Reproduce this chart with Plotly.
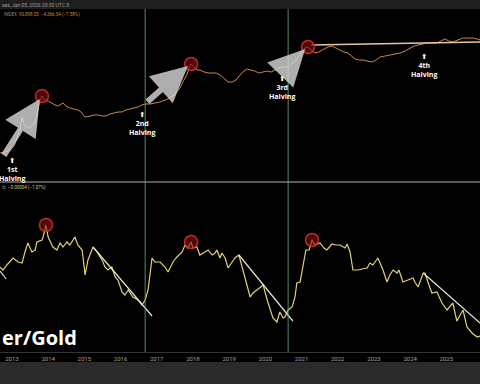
import numpy as np
import plotly.graph_objects as go

# ---------------- data ----------------
# Upper panel: BTC price (USD, log scale)
btc_dates = [2012.67, 2012.81, 2012.95, 2013.06, 2013.14, 2013.22, 2013.28, 2013.33, 2013.42, 2013.53,
             2013.64, 2013.72, 2013.77, 2013.83, 2013.91, 2014.00, 2014.08, 2014.19, 2014.27, 2014.36,
             2014.41, 2014.49, 2014.60, 2014.71, 2014.82, 2014.91, 2014.99, 2015.05, 2015.16, 2015.27,
             2015.38, 2015.49, 2015.60, 2015.71, 2015.82, 2015.93, 2016.04, 2016.15, 2016.26, 2016.37,
             2016.48, 2016.59, 2016.68, 2016.81, 2016.95, 2017.09, 2017.23, 2017.37, 2017.50, 2017.64,
             2017.75, 2017.84, 2017.89, 2017.95, 2018.03, 2018.11, 2018.19, 2018.31, 2018.42, 2018.53,
             2018.64, 2018.75, 2018.86, 2018.97, 2019.08, 2019.19, 2019.30, 2019.38, 2019.49, 2019.60,
             2019.71, 2019.82, 2019.94, 2020.05, 2020.16, 2020.27, 2020.38, 2020.49, 2020.60, 2020.68,
             2020.79, 2020.90, 2021.01, 2021.10, 2021.18, 2021.26, 2021.37, 2021.48, 2021.62, 2021.73,
             2021.84, 2021.95, 2022.06, 2022.17, 2022.28, 2022.39, 2022.48, 2022.59, 2022.70, 2022.81,
             2022.95, 2023.06, 2023.17, 2023.31, 2023.44, 2023.58, 2023.72, 2023.86, 2024.00, 2024.11,
             2024.22, 2024.36, 2024.47, 2024.60, 2024.74, 2024.85, 2024.96, 2025.07, 2025.18, 2025.32,
             2025.46, 2025.60, 2025.74, 2025.85, 2025.93]
btc_price = [10.1, 11.0, 12.9, 17.9, 34.7, 67, 195, 110, 79, 86,
             129, 347, 727, 1096, 789, 727, 617, 524, 482, 568,
             617, 482, 408, 377, 347, 294, 212, 195, 212, 230,
             230, 212, 212, 249, 271, 294, 294, 347, 377, 408,
             444, 524, 568, 568, 617, 670, 789, 931, 1291, 2118,
             4083, 6699, 10965, 15240, 11910, 9311, 9311, 7889, 7261, 7261,
             7261, 6166, 4436, 3467, 3467, 4083, 6166, 7889, 10093, 9311,
             8570, 7261, 7889, 8570, 7889, 9311, 10965, 11910, 11910, 12912,
             17950, 24950, 40830, 56750, 61660, 48190, 37670, 40830, 52360, 61660,
             66990, 56750, 48190, 40830, 37670, 29440, 22960, 21180, 21180, 19500,
             17950, 21180, 27100, 29440, 31920, 34670, 37670, 44360, 56750, 66990,
             72610, 78890, 85700, 85700, 85700, 100900, 119100, 100900, 93110, 109600,
             129100, 129100, 129100, 119100, 109600]

# Lower panel: ratio series
ratio_dates = [2012.67, 2012.75, 2012.86, 2013.03, 2013.17, 2013.28, 2013.36, 2013.44, 2013.55, 2013.64,
               2013.69, 2013.83, 2013.86, 2013.94, 2014.00, 2014.13, 2014.24, 2014.33, 2014.41, 2014.52,
               2014.60, 2014.74, 2014.82, 2014.94, 2015.02, 2015.10, 2015.24, 2015.35, 2015.49, 2015.57,
               2015.65, 2015.76, 2015.85, 2015.93, 2016.04, 2016.12, 2016.21, 2016.34, 2016.48, 2016.59,
               2016.68, 2016.76, 2016.87, 2016.95, 2017.09, 2017.23, 2017.31, 2017.45, 2017.56, 2017.70,
               2017.78, 2017.86, 2017.95, 2018.00, 2018.11, 2018.19, 2018.33, 2018.42, 2018.53, 2018.61,
               2018.66, 2018.75, 2018.80, 2018.89, 2018.97, 2019.08, 2019.16, 2019.27, 2019.38, 2019.49,
               2019.58, 2019.66, 2019.77, 2019.85, 2019.94, 2020.05, 2020.13, 2020.21, 2020.32, 2020.40,
               2020.49, 2020.54, 2020.63, 2020.74, 2020.82, 2020.87, 2020.96, 2021.04, 2021.12, 2021.21,
               2021.29, 2021.37, 2021.51, 2021.62, 2021.70, 2021.84, 2021.95, 2022.06, 2022.20, 2022.26,
               2022.34, 2022.42, 2022.56, 2022.67, 2022.81, 2022.89, 2022.97, 2023.11, 2023.25, 2023.36,
               2023.44, 2023.53, 2023.64, 2023.69, 2023.80, 2023.94, 2024.08, 2024.13, 2024.22, 2024.36,
               2024.41, 2024.49, 2024.60, 2024.74, 2024.88, 2025.02, 2025.18, 2025.29, 2025.46, 2025.57,
               2025.71, 2025.85, 2025.93]
ratio_vals = [0.85, 0.82, 0.87, 0.94, 0.90, 0.89, 1.00, 1.09, 1.00, 1.02,
              1.10, 1.12, 1.15, 1.27, 1.15, 1.05, 1.02, 1.09, 1.05, 1.10,
              1.07, 1.15, 1.07, 1.02, 0.77, 0.92, 1.05, 1.00, 0.92, 0.85,
              0.82, 0.85, 0.75, 0.72, 0.60, 0.57, 0.62, 0.55, 0.52, 0.47,
              0.52, 0.62, 0.94, 0.90, 0.90, 0.85, 0.80, 0.90, 0.95, 1.00,
              1.07, 1.04, 1.10, 1.04, 1.05, 0.97, 1.00, 1.02, 0.97, 0.99,
              1.02, 0.94, 0.99, 0.94, 0.84, 0.90, 0.94, 0.97, 0.82, 0.69,
              0.55, 0.59, 0.62, 0.64, 0.67, 0.52, 0.44, 0.34, 0.30, 0.40,
              0.34, 0.35, 0.42, 0.45, 0.55, 0.69, 0.70, 0.85, 1.02, 1.02,
              1.12, 1.07, 1.09, 1.04, 1.02, 1.08, 1.07, 1.07, 1.04, 1.08,
              1.00, 0.82, 0.82, 0.83, 0.84, 0.89, 0.87, 0.94, 0.82, 0.70,
              0.77, 0.82, 0.79, 0.82, 0.70, 0.72, 0.74, 0.70, 0.65, 0.79,
              0.79, 0.70, 0.59, 0.60, 0.49, 0.42, 0.49, 0.31, 0.42, 0.25,
              0.19, 0.15, 0.16]

year_ticks = list(range(2013, 2027))
halving_lines = [2016.68, 2020.63]
halving_names = ["1st", "2nd", "3rd", "4th"]
halving_label_dates = [2013.00, 2016.59, 2020.46, 2024.38]
halving_label_price = [6.17, 271, 5236, 31920]

# cycle peaks (circled)
btc_peak_dates = [2013.83, 2017.95, 2021.18]
ratio_peak_dates = [2013.94, 2017.95, 2021.29]

# grey arrows: halving -> peak (date, price)
arrow_tail_dates = [2012.75, 2016.70, 2020.65]
arrow_tail_price = [7.3, 617, 12912]
arrow_tip_dates = [2013.77, 2017.86, 2021.10]
arrow_tip_price = [857, 12912, 52360]

# upper resistance line
btc_trend_dates = [2021.27, 2025.93]
btc_trend_price = [72610, 93110]

# lower down-trend lines (start date, end date, start value, end value)
ratio_trend_x0 = [2012.67, 2015.24, 2019.27, 2024.36]
ratio_trend_x1 = [2012.84, 2016.87, 2020.76, 2025.93]
ratio_trend_y0 = [0.81, 1.05, 0.97, 0.79]
ratio_trend_y1 = [0.73, 0.36, 0.31, 0.29]

# ---------------- figure ----------------
W, H = 480, 384
UP_DOM = [202 / H, 375 / H]
LO_DOM = [32 / H, 201 / H]
ORANGE = "#cf8744"
YELLOW = "#e2d46c"

fig = go.Figure()

fig.add_trace(go.Scatter(x=btc_dates, y=btc_price, mode="lines",
                         line=dict(color=ORANGE, width=1), xaxis="x", yaxis="y",
                         hoverinfo="skip", showlegend=False))
fig.add_trace(go.Scatter(x=btc_trend_dates, y=btc_trend_price, mode="lines",
                         line=dict(color="#e3c99e", width=1.5), xaxis="x", yaxis="y",
                         hoverinfo="skip", showlegend=False))
fig.add_trace(go.Scatter(x=ratio_dates, y=ratio_vals, mode="lines",
                         line=dict(color=YELLOW, width=1.2), xaxis="x", yaxis="y2",
                         hoverinfo="skip", showlegend=False))
for a, b, c, d in zip(ratio_trend_x0, ratio_trend_x1, ratio_trend_y0, ratio_trend_y1):
    fig.add_trace(go.Scatter(x=[a, b], y=[c, d], mode="lines",
                             line=dict(color="#e6e6dc", width=1.2), xaxis="x", yaxis="y2",
                             hoverinfo="skip", showlegend=False))

# peak circles
btc_lookup = dict(zip(btc_dates, btc_price))
ratio_lookup = dict(zip(ratio_dates, ratio_vals))
circ = dict(size=13, color="rgba(130,10,15,0.6)", line=dict(color="rgba(210,45,45,0.9)", width=1.5))
fig.add_trace(go.Scatter(x=btc_peak_dates, y=[btc_lookup[d] for d in btc_peak_dates], mode="markers",
                         marker=circ, xaxis="x", yaxis="y", hoverinfo="skip", showlegend=False))
fig.add_trace(go.Scatter(x=ratio_peak_dates, y=[ratio_lookup[d] for d in ratio_peak_dates], mode="markers",
                         marker=circ, xaxis="x", yaxis="y2", hoverinfo="skip", showlegend=False))

shapes = []
# top and bottom bars
shapes.append(dict(type="rect", xref="paper", yref="paper", x0=0, x1=1, y0=375 / H, y1=1,
                   fillcolor="#1e1e1e", line=dict(width=0)))
shapes.append(dict(type="rect", xref="paper", yref="paper", x0=0, x1=1, y0=0, y1=22 / H,
                   fillcolor="#2a2a2a", line=dict(width=0)))
# pane separator
shapes.append(dict(type="line", xref="paper", yref="paper", x0=0, x1=1, y0=202 / H, y1=202 / H,
                   line=dict(color="#777777", width=1.5)))
# halving vertical lines
for d in halving_lines:
    shapes.append(dict(type="line", xref="x", yref="paper", x0=d, x1=d, y0=LO_DOM[0], y1=UP_DOM[1],
                       line=dict(color="rgba(105,160,120,0.85)", width=1)))

annotations = []
# grey arrows
for tx, tp, hx, hp in zip(arrow_tail_dates, arrow_tail_price, arrow_tip_dates, arrow_tip_price):
    annotations.append(dict(x=hx, y=np.log10(hp), ax=tx, ay=np.log10(tp), xref="x", yref="y",
                            axref="x", ayref="y", text="", showarrow=True, arrowhead=2,
                            arrowsize=1.2, arrowwidth=6, arrowcolor="rgba(218,218,218,0.8)",
                            standoff=0, startstandoff=0))
# halving labels (icon + ordinal + "Halving" in one text block)
for name, d, p in zip(halving_names, halving_label_dates, halving_label_price):
    annotations.append(dict(x=d, y=np.log10(p), xref="x", yref="y", yanchor="top", yshift=5,
                            text="<b>⬆<br>" + name + "<br>Halving</b>", showarrow=False,
                            font=dict(family="Open Sans, DejaVu Sans", size=7, color="white")))

# header / legend texts
annotations.append(dict(x=0, y=1 - 4.5 / H, xref="paper", yref="paper", xanchor="left", yanchor="middle",
                        text="ses, Jan 05, 2026 20:30 UTC 8", showarrow=False,
                        font=dict(family="Roboto", size=5, color="#9a9a9a")))
annotations.append(dict(x=2 / W, y=1 - 14 / H, xref="paper", yref="paper", xanchor="left", yanchor="middle",
                        text="INDEX  <span style='color:#cf8744'>93,898.05  −4,366.54 (−7.58%)</span>",
                        showarrow=False, font=dict(family="Roboto", size=4.5, color="#8a8a8a")))
annotations.append(dict(x=0, y=1 - 188 / H, xref="paper", yref="paper", xanchor="left", yanchor="middle",
                        text="ib  <span style='color:#d9cc66'>−0.00004 (−1.07%)</span>",
                        showarrow=False, font=dict(family="Roboto", size=4.5, color="#8a8a8a")))
# big title
annotations.append(dict(x=0, y=1 - 337 / H, xref="paper", yref="paper", xanchor="left", yanchor="middle",
                        text="<b>er/Gold</b>", showarrow=False,
                        font=dict(family="Open Sans", size=20, color="white")))

fig.update_layout(
    width=W, height=H,
    margin=dict(l=0, r=0, t=0, b=0),
    paper_bgcolor="black", plot_bgcolor="black",
    showlegend=False,
    xaxis=dict(range=[2012.67, 2025.93], anchor="y2", tickvals=year_ticks,
               ticktext=[str(y) for y in year_ticks], tickfont=dict(family="Roboto", size=6, color="#a0a0a0"),
               showgrid=False, zeroline=False, showline=True, linecolor="#333333", linewidth=1,
               ticks="", ticklabelstandoff=1),
    yaxis=dict(type="log", range=[-0.031, 6.147], domain=UP_DOM, showticklabels=False,
               showgrid=False, zeroline=False, showline=False),
    yaxis2=dict(range=[0, 1.69], domain=LO_DOM, showticklabels=False,
                showgrid=False, zeroline=False, showline=False),
    shapes=shapes,
    annotations=annotations,
)

fig.write_html("out.html", config={"displayModeBar": False},
               post_script="document.body.style.margin='0';document.body.style.overflow='hidden';")
